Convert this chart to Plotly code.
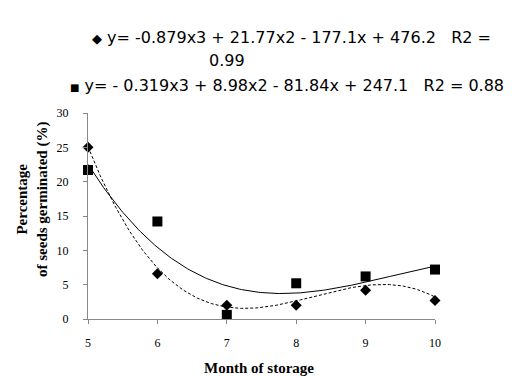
import numpy as np
import plotly.graph_objects as go

months = [5, 6, 7, 8, 9, 10]
diamond_vals = [25.0, 6.6, 2.0, 2.0, 4.2, 2.7]
square_vals = [21.7, 14.2, 0.6, 5.2, 6.2, 7.2]
diamond_coef = [-0.879, 21.77, -177.1, 476.2]
square_coef = [-0.319, 8.98, -81.84, 247.1]
x_ticks = [5, 6, 7, 8, 9, 10]
y_ticks = [0, 5, 10, 15, 20, 25, 30]

xs = np.linspace(5, 10, 200)
yd = np.polyval(diamond_coef, xs)
ysq = np.polyval(square_coef, xs)

fig = go.Figure()
fig.add_trace(go.Scatter(x=xs, y=yd, mode="lines",
                         line=dict(color="black", width=1, dash="3px,2px"), showlegend=False))
fig.add_trace(go.Scatter(x=xs, y=ysq, mode="lines",
                         line=dict(color="black", width=1), showlegend=False))
fig.add_trace(go.Scatter(x=months, y=diamond_vals, mode="markers",
                         marker=dict(symbol="diamond", size=8.5, color="black"),
                         cliponaxis=False, showlegend=False))
fig.add_trace(go.Scatter(x=months, y=square_vals, mode="markers",
                         marker=dict(symbol="square", size=10, color="black"),
                         cliponaxis=False, showlegend=False))

axis_font = dict(family="Liberation Serif", size=12, color="black")
fig.update_layout(
    width=531, height=377,
    margin=dict(l=80, r=104, t=105, b=66),
    plot_bgcolor="white", paper_bgcolor="white",
    xaxis=dict(range=[5, 10], tickvals=x_ticks, showgrid=False, zeroline=False,
               showline=True, linecolor="#888888", linewidth=1,
               ticks="outside", ticklen=4, tickcolor="#888888",
               ticklabelstandoff=9, tickfont=axis_font),
    yaxis=dict(range=[0, 30], tickvals=y_ticks, showgrid=False, zeroline=False,
               showline=True, linecolor="#888888", linewidth=1,
               ticks="outside", ticklen=4, tickcolor="#888888",
               ticklabelstandoff=12, tickfont=axis_font),
)

def px_x(p):
    return (p - 80) / 347.0

def px_y(p):
    return (311 - p) / 206.0

leg_font = dict(family="DejaVu Sans", size=16, color="black")
gap = "&nbsp;&nbsp;&nbsp;"
anns = [
    dict(text="<span style='font-size:13px'>◆</span> y= -0.879x3 + 21.77x2 - 177.1x + 476.2" + gap + "R2 =",
         x=px_x(82), y=px_y(30)),
    dict(text="0.99", x=px_x(199), y=px_y(53)),
    dict(text="<span style='font-size:10px'>■</span> y= - 0.319x3 + 8.98x2 - 81.84x + 247.1" + gap + "R2 = 0.88",
         x=px_x(60), y=px_y(77)),
]
for a in anns:
    fig.add_annotation(xref="paper", yref="paper", xanchor="left", yanchor="middle",
                       showarrow=False, font=leg_font, **a)

title_font = dict(family="Liberation Serif", size=15, color="black")
fig.add_annotation(text="<b>Month of storage</b>", xref="paper", yref="paper",
                   x=px_x(251), y=px_y(360), xanchor="center", yanchor="middle",
                   showarrow=False, font=title_font)
fig.add_annotation(text="<b>Percentage<br>of seeds germinated (%)</b>", xref="paper", yref="paper",
                   x=px_x(24), y=px_y(192), xanchor="center", yanchor="middle", textangle=-90,
                   showarrow=False, font=title_font)

fig.write_html("out.html")
